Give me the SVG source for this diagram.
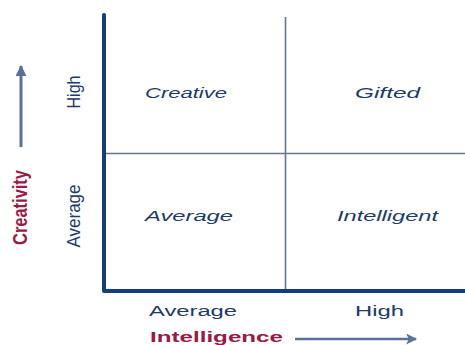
<svg xmlns="http://www.w3.org/2000/svg" width="465" height="345" viewBox="0 0 465 345">
  <style>
    .axis { stroke: #123f7c; stroke-width: 4; fill: none; stroke-linejoin: round; stroke-linecap: round; }
    .grid { stroke: #61798f; stroke-width: 1.6; fill: none; }
    .arrow { stroke: #5b6f9c; fill: none; }
    .cell { font-family: "Liberation Sans", Arial, sans-serif; font-style: italic; font-size: 15.5px; fill: #1c3a6c; }
    .tick { font-family: "Liberation Sans", Arial, sans-serif; font-size: 15.5px; fill: #1c3a6c; }
    .vtick { font-family: "Liberation Sans", Arial, sans-serif; font-size: 18.5px; fill: #1c3a6c; text-anchor: middle; }
    .title { font-family: "Liberation Sans", Arial, sans-serif; font-weight: bold; fill: #9a1a45; }
  </style>
  <defs>
    <marker id="head" viewBox="0 0 10 10" refX="9" refY="5" markerWidth="12" markerHeight="11" orient="auto" markerUnits="userSpaceOnUse">
      <path d="M0,0 L10,5 L0,10 z" fill="#5b6f9c"/>
    </marker>
    <marker id="headThin" viewBox="0 0 10 10" refX="9" refY="5" markerWidth="17" markerHeight="11" orient="auto" markerUnits="userSpaceOnUse">
      <path d="M0,0 L10,5 L0,10 L2.5,5 z" fill="#5b6f9c"/>
    </marker>
  </defs>

  <rect width="465" height="345" fill="#ffffff"/>

  <!-- quadrant grid lines, axes and direction arrows -->
  <g id="connectors">
    <line class="grid" x1="285.5" y1="17" x2="285.5" y2="291"/>
    <line class="grid" x1="104" y1="153.5" x2="465" y2="153.5"/>
    <path class="axis" d="M104,15 L104,291 L467,291"/>
    <line class="arrow" x1="21" y1="147" x2="21" y2="66" stroke-width="3" marker-end="url(#head)"/>
    <line class="arrow" x1="295" y1="339" x2="416" y2="339" stroke-width="2.4" marker-end="url(#headThin)"/>
  </g>

  <!-- quadrant labels -->
  <g id="creative"><text class="cell" x="145" y="98" textLength="82" lengthAdjust="spacingAndGlyphs">Creative</text></g>
  <g id="gifted"><text class="cell" x="355" y="98" textLength="65" lengthAdjust="spacingAndGlyphs">Gifted</text></g>
  <g id="average"><text class="cell" x="145" y="220.5" textLength="88" lengthAdjust="spacingAndGlyphs">Average</text></g>
  <g id="intelligent"><text class="cell" x="337" y="221" textLength="101" lengthAdjust="spacingAndGlyphs">Intelligent</text></g>

  <!-- axis tick labels -->
  <g id="x-average"><text class="tick" x="149" y="316" textLength="88" lengthAdjust="spacingAndGlyphs">Average</text></g>
  <g id="x-high"><text class="tick" x="355" y="316" textLength="49" lengthAdjust="spacingAndGlyphs">High</text></g>
  <g id="y-high"><text class="vtick" transform="translate(80,92) rotate(-90)" textLength="33" lengthAdjust="spacingAndGlyphs">High</text></g>
  <g id="y-average"><text class="vtick" transform="translate(80,216) rotate(-90)" textLength="63" lengthAdjust="spacingAndGlyphs">Average</text></g>

  <!-- axis titles -->
  <g id="x-title"><text class="title" x="150" y="342" font-size="15.5" textLength="133" lengthAdjust="spacingAndGlyphs">Intelligence</text></g>
  <g id="y-title"><text class="title" transform="translate(27,207.5) rotate(-90)" font-size="20" text-anchor="middle" textLength="75" lengthAdjust="spacingAndGlyphs">Creativity</text></g>
</svg>
